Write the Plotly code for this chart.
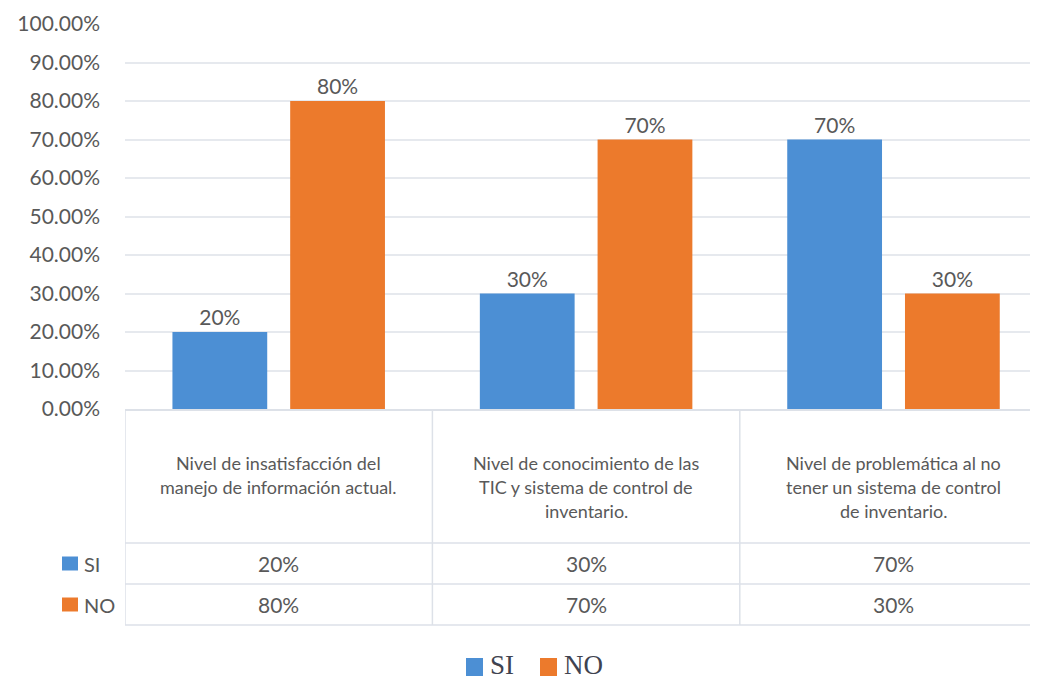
import plotly.graph_objects as go

categories = [
    "Nivel de insatisfacción del<br>manejo de información actual.",
    "Nivel de conocimiento de las<br>TIC y sistema de control de<br>inventario.",
    "Nivel de problemática al no<br>tener un sistema de control<br>de inventario.",
]
series_names = ["SI", "NO"]
si_values = [0.20, 0.30, 0.70]
no_values = [0.80, 0.70, 0.30]
value_labels_si = ["20%", "30%", "70%"]
value_labels_no = ["80%", "70%", "30%"]
series_colors = ["#4c8fd4", "#ec7a2c"]

OFF = 8  # page body margin
W, H = 1030, 674
L, R, T, B = 117, 0, 16, 273
PW = W - L - R
PH = H - T - B

def px_x(p):
    return (p - OFF - L) / PW

def px_y(p):
    return (H - B - (p - OFF)) / PH

GRAY = "#595959"
LINE = "#dde1e8"
FONT = "Lato"
COLW = 307.4

fig = go.Figure()
series_values = [si_values, no_values]
series_labels = [value_labels_si, value_labels_no]
for name, vals, labs, col in zip(series_names, series_values, series_labels, series_colors):
    fig.add_trace(go.Bar(
        x=list(range(len(categories))), y=vals, name=name,
        marker=dict(color=col, line=dict(width=0)),
        text=labs, textposition="outside", cliponaxis=False,
        textfont=dict(family=FONT, size=21, color=GRAY),
        showlegend=False,
    ))

shapes = []
annotations = []
xmin = -0.5
# table vertical lines
for i in range(len(categories) + 1):
    shapes.append(dict(type="line", xref="x", yref="paper", x0=xmin + i, x1=xmin + i,
                       y0=px_y(409), y1=px_y(625), line=dict(color=LINE, width=1.5)))
left_x = xmin + (55 - 125) / COLW
shapes.append(dict(type="line", xref="x", yref="paper", x0=left_x, x1=left_x,
                   y0=px_y(543), y1=px_y(625), line=dict(color=LINE, width=1.5)))
for yy in (543, 584, 625):
    shapes.append(dict(type="line", xref="x", yref="paper", x0=left_x, x1=xmin + len(categories),
                       y0=px_y(yy), y1=px_y(yy), line=dict(color=LINE, width=1.5)))

# category labels
for i, c in enumerate(categories):
    for j, line in enumerate(c.split("<br>")):
        annotations.append(dict(x=i, y=px_y(462.5 + 24.5 * j), xref="x", yref="paper",
                                text=line, showarrow=False, xanchor="center", yanchor="middle",
                                font=dict(family=FONT, size=18, color=GRAY)))

# table rows
row_centers = [563.5, 604.5]
for r, (name, labs, col) in enumerate(zip(series_names, series_labels, series_colors)):
    yc = row_centers[r]
    shapes.append(dict(type="rect", xref="paper", yref="paper",
                       x0=px_x(62), x1=px_x(78), y0=px_y(yc - 7), y1=px_y(yc + 7),
                       fillcolor=col, line=dict(width=0)))
    annotations.append(dict(x=px_x(82), y=px_y(yc), xref="paper", yref="paper", text=name,
                            showarrow=False, xanchor="left", yanchor="middle",
                            font=dict(family=FONT, size=20, color=GRAY)))
    for i, lab in enumerate(labs):
        annotations.append(dict(x=i, y=px_y(yc), xref="x", yref="paper", text=lab,
                                showarrow=False, xanchor="center", yanchor="middle",
                                font=dict(family=FONT, size=21, color=GRAY)))

# bottom legend
leg_sq = [466, 540]
for name, col, xs in zip(series_names, series_colors, leg_sq):
    shapes.append(dict(type="rect", xref="paper", yref="paper",
                       x0=px_x(xs), x1=px_x(xs + 17), y0=px_y(658), y1=px_y(676),
                       fillcolor=col, line=dict(width=0)))
    annotations.append(dict(x=px_x(xs + 22), y=px_y(665), xref="paper", yref="paper", text=name,
                            showarrow=False, xanchor="left", yanchor="middle",
                            font=dict(family="Liberation Serif", size=27, color="#3f4350")))

fig.update_layout(
    width=W, height=H,
    margin=dict(l=L, r=R, t=T, b=B),
    paper_bgcolor="white", plot_bgcolor="white",
    barmode="group", bargap=0.234, bargroupgap=0.195,
    shapes=shapes, annotations=annotations,
    xaxis=dict(range=[xmin, xmin + PW / COLW], showticklabels=False, showgrid=False, zeroline=False,
               showline=True, linecolor=LINE, linewidth=1.5, fixedrange=True),
    yaxis=dict(range=[0, 1], dtick=0.1, tickformat=".2%", showgrid=True, gridcolor="#e6e9ee",
               gridwidth=1.5, zeroline=False, showline=False, ticks="", ticklabelstandoff=24,
               tickfont=dict(family=FONT, size=21, color=GRAY), fixedrange=True),
)

fig.write_html("out.html")
